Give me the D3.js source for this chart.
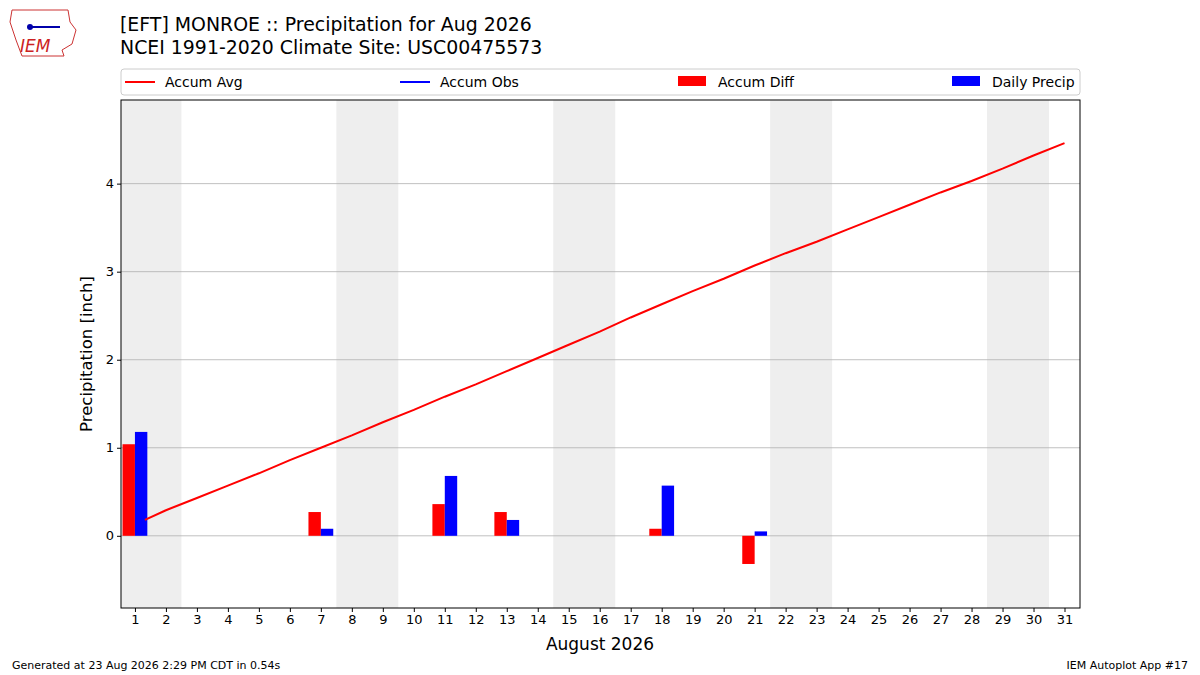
<!DOCTYPE html><html><head><meta charset="utf-8">
<script src="https://cdn.jsdelivr.net/npm/d3@7"></script>
<style>body{margin:0;background:#fff}text{font-family:"DejaVu Sans",sans-serif}</style></head><body>
<svg id="c" width="1200" height="675"></svg>
<script>
const days = d3.range(1,32);
const accumAvg = [0.15,0.29,0.43,0.57,0.71,0.86,1.00,1.14,1.29,1.43,1.58,1.72,1.87,2.02,2.17,2.32,2.48,2.63,2.78,2.92,3.07,3.21,3.34,3.48,3.62,3.76,3.90,4.03,4.17,4.32,4.46];
const barDays = [1,7,11,13,18,21];
const accumDiff = [1.04,0.27,0.36,0.27,0.08,-0.32];
const dailyPrecip = [1.18,0.08,0.68,0.18,0.57,0.05];
const weekendStarts = [1,8,15,22,29];
const yTicks = [0,1,2,3,4];

const svg = d3.select("#c");
const L=121,R=1080,T=100,B=608;
const x = d3.scaleLinear().domain([0.55,31.5]).range([L,R]);
const y = d3.scaleLinear().domain([-0.82,4.95]).range([B,T]);
const g = svg.append("g");
weekendStarts.forEach(s=>{
  const x0=Math.max(L,x(s-0.5)), x1=x(s+1.5);
  g.append("rect").attr("x",x0).attr("y",T).attr("width",x1-x0).attr("height",B-T).attr("fill","#eeeeee");
});
yTicks.forEach(t=>g.append("line").attr("x1",L).attr("x2",R).attr("y1",y(t)).attr("y2",y(t)).attr("stroke","#b0b0b0").attr("stroke-width",0.8));
const bw = x(1.4)-x(1);
barDays.forEach((d,i)=>{
  g.append("rect").attr("x",x(d)-bw).attr("width",bw).attr("y",y(Math.max(0,accumDiff[i]))).attr("height",Math.abs(y(accumDiff[i])-y(0))).attr("fill","red");
  g.append("rect").attr("x",x(d)).attr("width",bw).attr("y",y(Math.max(0,dailyPrecip[i]))).attr("height",Math.abs(y(dailyPrecip[i])-y(0))).attr("fill","blue");
});
g.append("path").datum(days).attr("fill","none").attr("stroke","red").attr("stroke-width",2)
 .attr("d",d3.line().x(d=>x(d)+10*(d===1)).y((d,i)=>y(accumAvg[i]+(d===1?0.03:0))));
g.append("rect").attr("x",L).attr("y",T).attr("width",R-L).attr("height",B-T).attr("fill","none").attr("stroke","#000");
const xa = svg.append("g").attr("transform",`translate(0,${B})`).call(d3.axisBottom(x).tickValues(days).tickFormat(d3.format("d")).tickSize(4));
const ya = svg.append("g").attr("transform",`translate(${L},0)`).call(d3.axisLeft(y).tickValues(yTicks).tickFormat(d3.format("d")).tickSize(4));
[xa,ya].forEach(a=>{a.select(".domain").remove();a.selectAll("text").attr("font-size",13).attr("font-family","DejaVu Sans").attr("fill","#000");});
svg.append("text").attr("x",600).attr("y",650).attr("text-anchor","middle").attr("font-size",17).text("August 2026");
svg.append("text").attr("transform","translate(92,354) rotate(-90)").attr("text-anchor","middle").attr("font-size",16.5).text("Precipitation [inch]");
svg.append("text").attr("x",120).attr("y",31).attr("font-size",18.9).text("[EFT] MONROE :: Precipitation for Aug 2026");
svg.append("text").attr("x",120).attr("y",54).attr("font-size",18.9).text("NCEI 1991-2020 Climate Site: USC00475573");
svg.append("text").attr("x",12).attr("y",669).attr("font-size",11).text("Generated at 23 Aug 2026 2:29 PM CDT in 0.54s");
svg.append("text").attr("x",1188).attr("y",669).attr("text-anchor","end").attr("font-size",11).text("IEM Autoplot App #17");
svg.append("rect").attr("x",121).attr("y",69).attr("width",959).attr("height",26).attr("rx",3).attr("fill","#fff").attr("stroke","#ccc");
const leg=[["Accum Avg","red","line",125],["Accum Obs","blue","line",400],["Accum Diff","red","rect",678],["Daily Precip","blue","rect",952]];
leg.forEach(([t,c,k,lx])=>{
  if(k==="line") svg.append("line").attr("x1",lx).attr("x2",lx+30).attr("y1",82).attr("y2",82).attr("stroke",c).attr("stroke-width",2);
  else svg.append("rect").attr("x",lx).attr("y",76).attr("width",28).attr("height",10).attr("fill",c);
  svg.append("text").attr("x",lx+40).attr("y",87).attr("font-size",14).text(t);
});
const lg=svg.append("g");
lg.append("path").attr("d","M12,10 L68,10 L70,22 L76,30 L72,44 L62,50 L64,56 L22,56 L16,40 L10,22 Z").attr("fill","none").attr("stroke","#c33").attr("stroke-width",1);
lg.append("text").attr("x",20).attr("y",52).attr("font-size",17).attr("font-style","italic").attr("font-family","DejaVu Serif").attr("fill","#c22").text("IEM");
lg.append("line").attr("x1",28).attr("x2",60).attr("y1",27).attr("y2",27).attr("stroke","#00a").attr("stroke-width",2);
lg.append("circle").attr("cx",30).attr("cy",27).attr("r",3).attr("fill","#00a");
</script></body></html>
